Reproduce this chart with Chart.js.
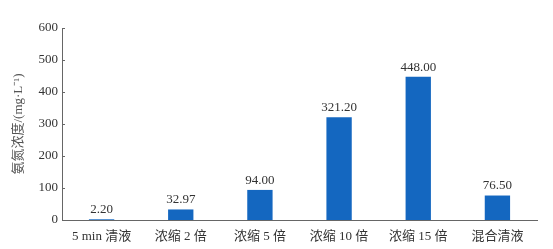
<!DOCTYPE html>
<html>
<head>
<meta charset="utf-8">
<script src="https://cdn.jsdelivr.net/npm/chart.js@4.4.1/dist/chart.umd.min.js"></script>
<style>
  html, body { margin: 0; padding: 0; background: #fff; }
  #wrap { width: 553px; height: 249px; }
</style>
</head>
<body>
<div id="wrap"><canvas id="chart"></canvas></div>
<script>
var categories = ['5 min 清液', '浓缩 2 倍', '浓缩 5 倍', '浓缩 10 倍', '浓缩 15 倍', '混合清液'];
var values = [2.20, 32.97, 94.00, 321.20, 448.00, 76.50];
var yTicks = [0, 100, 200, 300, 400, 500, 600];
var yTitle = '氨氮浓度/(mg·L⁻¹)';

var fontFam = "'Liberation Serif', 'Noto Sans CJK SC', serif";

// value labels above bars + small inward ticks on the y axis
var extras = {
  id: 'extras',
  afterDatasetsDraw: function(chart) {
    var ctx = chart.ctx;
    var meta = chart.getDatasetMeta(0);
    ctx.save();
    ctx.fillStyle = '#333';
    ctx.font = '13px ' + fontFam;
    ctx.textAlign = 'center';
    ctx.textBaseline = 'bottom';
    meta.data.forEach(function(bar, i) {
      ctx.fillText(values[i].toFixed(2), bar.x, bar.y - 3);
    });
    var y = chart.scales.y;
    ctx.strokeStyle = '#666';
    ctx.lineWidth = 1;
    yTicks.forEach(function(t) {
      var py = Math.round(y.getPixelForValue(t)) + 0.5;
      ctx.beginPath();
      ctx.moveTo(y.right, py);
      ctx.lineTo(y.right + 3, py);
      ctx.stroke();
    });
    ctx.restore();
  }
};

new Chart(document.getElementById('chart'), {
  type: 'bar',
  data: {
    labels: categories,
    datasets: [{
      data: values,
      backgroundColor: '#1467c0',
      barPercentage: 0.32,
      categoryPercentage: 1
    }]
  },
  options: {
    responsive: true,
    maintainAspectRatio: false,
    animation: false,
    layout: { padding: { left: 0, right: 16, top: 28, bottom: 0 } },
    plugins: { legend: { display: false }, tooltip: { enabled: false } },
    scales: {
      x: {
        grid: { display: false, drawTicks: false },
        border: { display: true, color: '#666', width: 1 },
        ticks: { color: '#333', font: { size: 13, family: fontFam }, padding: 9, maxRotation: 0 },
        afterFit: function(s) { s.height = 29; }
      },
      y: {
        min: 0,
        max: 600,
        afterBuildTicks: function(s) { s.ticks = yTicks.map(function(v) { return { value: v }; }); },
        grid: { display: false, drawTicks: false },
        border: { display: true, color: '#666', width: 1 },
        ticks: { color: '#333', font: { size: 13, family: fontFam }, padding: 4 },
        title: { display: true, text: yTitle, color: '#555', font: { size: 13, family: fontFam }, padding: { top: 11, bottom: 4 } },
        afterFit: function(s) { s.width = 62; }
      }
    }
  },
  plugins: [extras]
});
</script>
</body>
</html>
